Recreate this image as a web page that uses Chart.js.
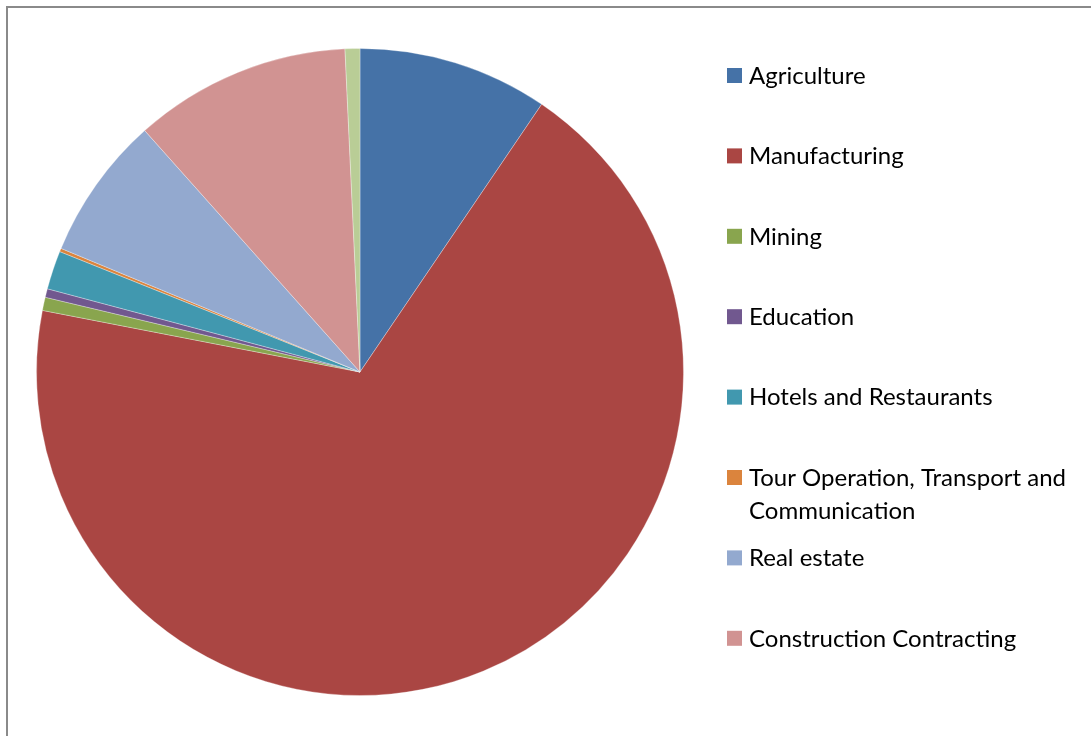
<!DOCTYPE html>
<html>
<head>
<meta charset="utf-8">
<script src="https://cdn.jsdelivr.net/npm/chart.js@4"></script>
<style>
  html, body { margin: 0; padding: 0; background: #fff; overflow: hidden; }
  #wrap { position: relative; width: 1091px; height: 736px; }
  #marco { position: absolute; left: 6px; top: 6px; width: 1200px; height: 900px;
           border-left: 2px solid #8a8a8a; border-top: 2px solid #8a8a8a; }
  #grafica { position: absolute; left: 0; top: 0; }
</style>
</head>
<body>
<div id="wrap">
  <div id="marco"></div>
  <canvas id="grafica" width="1091" height="736"></canvas>
</div>
<script>
// sectores (el ultimo no aparece en la leyenda)
const sectores = ["Agriculture", "Manufacturing", "Mining", "Education",
  "Hotels and Restaurants", "Tour Operation, Transport and Communication",
  "Real estate", "Construction Contracting", "Other"];
const porcentajes = [9.49, 68.56, 0.66, 0.43, 1.93, 0.17, 7.17, 10.85, 0.74];
const colores = ["#4572A7", "#AA4643", "#89A54E", "#71588F", "#4198AF",
  "#DB843D", "#93A9CF", "#D19392", "#B9CD96"];
// lineas de texto de cada entrada de la leyenda
const lineasLeyenda = [["Agriculture"], ["Manufacturing"], ["Mining"], ["Education"],
  ["Hotels and Restaurants"], ["Tour Operation, Transport and", "Communication"],
  ["Real estate"], ["Construction Contracting"]];

// leyenda dibujada a mano: espaciado fijo, la entrada larga cuelga en dos lineas
const leyendaPropia = {
  id: "leyendaPropia",
  afterDraw(chart) {
    const ctx = chart.ctx;
    const colBg = chart.data.datasets[0].backgroundColor;
    ctx.save();
    ctx.font = "24px Lato";
    ctx.textBaseline = "middle";
    lineasLeyenda.forEach((lineas, i) => {
      const y = 75.5 + i * 80.4;
      ctx.fillStyle = colBg[i];
      ctx.fillRect(727, y - 7.5, 15, 15);
      ctx.fillStyle = "#000";
      lineas.forEach((t, j) => ctx.fillText(t, 749, y + 0.5 + j * 33));
    });
    ctx.restore();
  }
};

let ctxTorta = document.getElementById("grafica").getContext("2d");
let graficaTorta = new Chart(ctxTorta, {
  type: "pie",
  data: {
    labels: sectores,
    datasets: [{
      data: porcentajes,
      backgroundColor: colores,
      borderColor: "rgba(255,255,255,0.3)",
      borderWidth: 1
    }]
  },
  options: {
    responsive: false,
    animation: false,
    layout: { padding: { left: 36, right: 407, top: 48, bottom: 40 } },
    plugins: {
      legend: { display: false },
      tooltip: { enabled: false }
    }
  },
  plugins: [leyendaPropia]
});
</script>
</body>
</html>
